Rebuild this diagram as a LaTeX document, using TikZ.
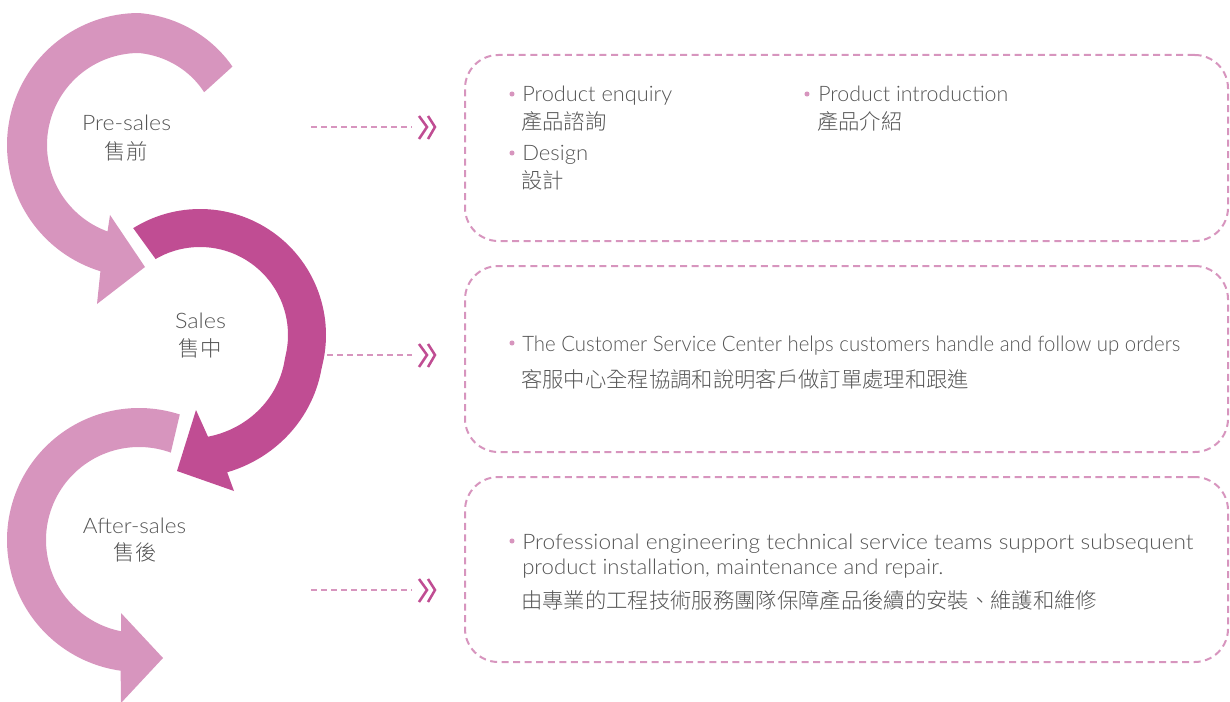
\documentclass[tikz,border=0pt]{standalone}
\usepackage{fontspec}
\setmainfont{Lato Light}
\IfFontExistsTF{Noto Sans CJK TC Light}{\newfontfamily\cjk{Noto Sans CJK TC Light}}{\newfontfamily\cjk{Noto Sans CJK TC}}
\usepackage{graphicx}
\definecolor{lightpk}{HTML}{D795BE}
\definecolor{darkpk}{HTML}{C04D93}
\definecolor{txtgray}{HTML}{555555}
\newcommand\fitw[2]{\resizebox{#1}{\height}{#2}}
\tikzset{
  txt/.style={font=\fontsize{16}{19}\selectfont, text=txtgray, inner sep=0pt, anchor=base west},
  lbl/.style={font=\fontsize{16}{19}\selectfont, text=txtgray, inner sep=0pt, anchor=base},
  box/.style={draw=lightpk, line width=1.5pt, dash pattern=on 5.25pt off 3.4pt, rounded corners=25pt, minimum width=572.25pt, inner sep=0pt},
  bul/.style={circle, fill=lightpk, minimum size=3.8pt, inner sep=0pt},
  dashline/.style={draw=lightpk, line width=1.5pt, dash pattern=on 4.5pt off 3pt},
  chevs/.pic={\draw[darkpk, line width=1.9pt] (7,-11) -- (15,0) -- (7,12) (16,-11) -- (23,0) -- (16,12);}
}
\begin{document}
\begin{tikzpicture}[x=0.75pt,y=-0.75pt]
\useasboundingbox (0,0) rectangle (1230,702);

% Pre-sales arrow
\fill[lightpk] plot[domain=40:253,samples=90] ({139+(132-10*max(0,(90-(\x))/50))*cos(\x)},{145-(132-10*max(0,(90-(\x))/50))*sin(\x)})
  -- (97,304) -- (145,267) -- (110,215)
  -- plot[domain=250:39,samples=90] ({139+(92-8*max(0,(90-(\x))/50))*cos(\x)},{145-(92-8*max(0,(90-(\x))/50))*sin(\x)}) -- cycle;

% After-sales arrow
\fill[lightpk] plot[domain=72:262,samples=90] ({139+132*cos(\x)},{540-132*sin(\x)})
  -- (121,703) -- (163,658) -- (121,613)
  -- plot[domain=259:70,samples=90] ({139+93*cos(\x)},{540-93*sin(\x)}) -- cycle;

% Sales arrow
\fill[darkpk] plot[domain=122:-78.8,samples=90] ({200+(126+14*max(0,(-15-(\x))/64))*cos(\x)},{335-(126+14*max(0,(-15-(\x))/64))*sin(\x)})
  -- (234,491) -- (177,471) -- (196,410)
  -- plot[domain=-85.5:120.3,samples=90] ({200+(88+14*max(0,(-15-(\x))/70.5))*cos(\x)},{335-(88+14*max(0,(-15-(\x))/70.5))*sin(\x)}) -- cycle;

% stage labels
\node[lbl] (pre) at (126.5,131) {\fitw{66.75pt}{Pre-sales}};
\node[lbl] (precn) at (126,160) {\cjk 售前};
\node[lbl] (sal) at (200.5,328) {\fitw{38.25pt}{Sales}};
\node[lbl] (salcn) at (200,356) {\cjk 售中};
\node[lbl] (aft) at (134.5,533) {\fitw{77.25pt}{After-sales}};
\node[lbl] (aftcn) at (135,560) {\cjk 售後};

% boxes
\node[box, minimum height=139.5pt] (b1) at (846.5,148) {};
\node[box, minimum height=139.5pt] (b2) at (846.5,359) {};
\node[box, minimum height=138.75pt] (b3) at (846.5,569.5) {};

% connectors
\coordinate (c1s) at (311,127); \coordinate (c1e) at (412,127);
\coordinate (c2s) at (327,355); \coordinate (c2e) at (412,355);
\coordinate (c3s) at (311,590); \coordinate (c3e) at (412,590);
\draw[dashline] (c1s) -- (c1e);
\draw[dashline] (c2s) -- (c2e);
\draw[dashline] (c3s) -- (c3e);
\pic at (c1e) {chevs};
\pic at (c2e) {chevs};
\pic at (c3e) {chevs};

% box 1 content
\node[bul] (u1) at (512,94) {};
\node[txt] (t1) at (522,102) {\fitw{112.5pt}{Product enquiry}};
\node[txt] (t1c) at (521,130) {\cjk 產品諮詢};
\node[bul] (u2) at (512,153) {};
\node[txt] (t2) at (522,161) {\fitw{49.5pt}{Design}};
\node[txt] (t2c) at (521,189) {\cjk 設計};
\node[bul] (u3) at (807,94) {};
\node[txt] (t3) at (818,102) {\fitw{142.5pt}{Product introduction}};
\node[txt] (t3c) at (817,130) {\cjk 產品介紹};

% box 2 content
\node[bul] (u4) at (512,343) {};
\node[txt] (t4) at (522,351) {\fitw{493.5pt}{The Customer Service Center helps customers handle and follow up orders}};
\node[txt] (t4c) at (521,387) {\cjk 客服中心全程協調和說明客戶做訂單處理和跟進};

% box 3 content
\node[bul] (u5) at (512,541) {};
\node[txt] (t5) at (522,549) {\fitw{503.25pt}{Professional engineering technical service teams support subsequent}};
\node[txt] (t5b) at (522,574) {\fitw{315.75pt}{product installation, maintenance and repair.}};
\node[txt] (t5c) at (521,608) {\cjk 由專業的工程技術服務團隊保障產品後續的安裝、維護和維修};
\end{tikzpicture}
\end{document}
